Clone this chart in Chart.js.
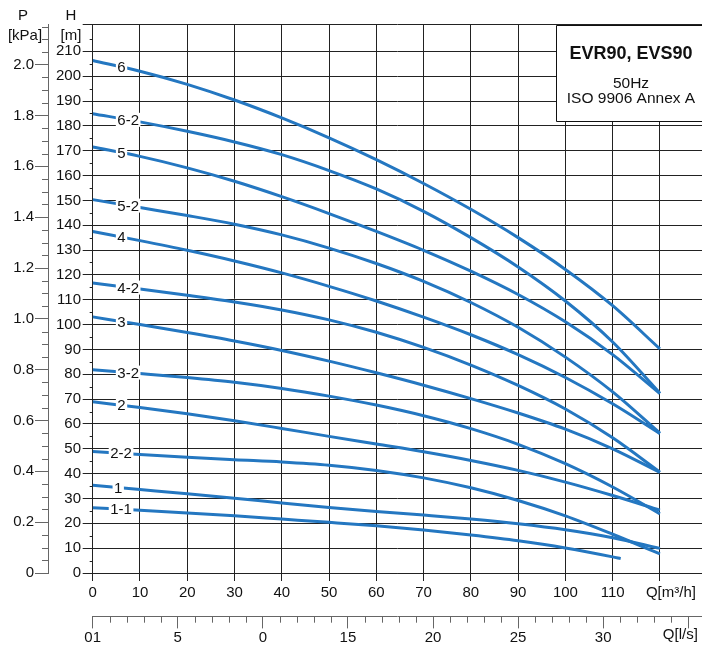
<!DOCTYPE html>
<html lang="en">
<head>
    <meta charset="UTF-8">
    <title>EVR90, EVS90</title>
    <script src="https://cdn.jsdelivr.net/npm/chart.js"></script>
    <style>body { margin: 0; background: #fff; }</style>
</head>
<body>
    <canvas id="chart" width="702" height="646"></canvas>

    <script>
        // flow points (m3/h) and head (m)
        const flowM3h = [0, 10, 20, 30, 40, 50, 60, 70, 80, 90, 100, 110, 120];
        const flowShort = [0, 10, 20, 30, 40, 50, 60, 70, 80, 90, 100, 110, 111.7];

        const head6   = [206.3, 202, 196.7, 190.4, 183.2, 175.2, 166.4, 156.8, 146.4, 135, 122.2, 107.6, 90.2];
        const head6_2 = [184.9, 181.6, 177.8, 173.5, 168.4, 162, 154.6, 145.6, 135, 123.2, 109.5, 93, 72.4];
        const head5   = [171.5, 167.7, 163.1, 157.7, 151.5, 144.7, 137.5, 129.9, 121.5, 112.1, 101.1, 87.9, 72.2];
        const head5_2 = [150.3, 147.1, 143.9, 140.4, 136.1, 130.8, 124.6, 117.4, 108.9, 98.9, 86.9, 72.9, 56.3];
        const head4   = [137.5, 133.8, 129.9, 125.6, 120.8, 115.4, 109.5, 103, 95.9, 87.9, 78.7, 68.1, 56.1];
        const head4_2 = [116.7, 114.3, 111.8, 109.1, 105.9, 101.9, 96.9, 90.8, 83.7, 75.5, 66, 54.4, 40.6];
        const head3   = [103.1, 100, 96.8, 93.4, 89.6, 85.3, 80.6, 75.6, 70.2, 64.4, 57.9, 50, 40.5];
        const head3_2 = [81.8, 80.3, 78.7, 76.8, 74.3, 71.2, 67.6, 63.3, 58.1, 51.8, 44, 34.6, 23.8];
        const head2   = [68.9, 66.6, 64.1, 61.3, 58.2, 55, 51.9, 48.8, 45.3, 41.3, 36.6, 31.2, 25.3];
        const head2_2 = [48.9, 47.7, 46.6, 45.6, 44.7, 43.4, 41.3, 38.3, 34.3, 29.2, 23, 15.6, 7.7];
        const head1   = [35.3, 33.6, 31.9, 30.1, 28.2, 26.4, 24.8, 23.3, 21.7, 19.8, 17.4, 14.2, 9.9];
        const head1_1 = [26.3, 25.3, 24.2, 23, 21.7, 20.4, 19, 17.3, 15.3, 13, 10.1, 6.5, 5.8];

        const curveNames = ['6', '6-2', '5', '5-2', '4', '4-2', '3', '3-2', '2', '2-2', '1', '1-1'];

        // second flow axis (l/s) tick labels, as printed
        const lsTickValues = [0, 5, 10, 15, 20, 25, 30];
        const lsTickLabels = ['01', '5', '0', '15', '20', '25', '30'];

        const heads = [head6, head6_2, head5, head5_2, head4, head4_2, head3, head3_2, head2, head2_2, head1, head1_1];
        const labelAt = [6.1, 7.5, 6.1, 7.5, 6.1, 7.5, 6.1, 7.5, 6.1, 6, 5.4, 6];
        const curves = curveNames.map((name, i) => ({
            name: name,
            q: name === '1-1' ? flowShort : flowM3h,
            h: heads[i],
            at: labelAt[i]
        }));

        const BLUE = '#2477c1';
        const GRID = '#222';
        const FONT = "'Liberation Sans', Arial, sans-serif";
        const Q_MAX = 128.9;
        const H_MAX = 221;
        const P_MAX = 2.16;

        Chart.defaults.font.family = FONT;
        Chart.defaults.font.size = 15;
        Chart.defaults.color = '#111';

        function headAt(c, q) {
            for (let i = 1; i < c.q.length; i++) {
                if (q <= c.q[i]) {
                    const t = (q - c.q[i - 1]) / (c.q[i] - c.q[i - 1]);
                    return c.h[i - 1] + t * (c.h[i] - c.h[i - 1]);
                }
            }
            return c.h[c.h.length - 1];
        }

        const extras = {
            id: 'extras',
            afterDatasetsDraw(chart) {
                const ctx = chart.ctx;
                const x = chart.scales.x, y = chart.scales.y;
                ctx.save();
                // curve names on white patches
                ctx.font = '15px ' + FONT;
                ctx.textAlign = 'center';
                ctx.textBaseline = 'middle';
                curves.forEach(c => {
                    const px = x.getPixelForValue(c.at);
                    const py = y.getPixelForValue(headAt(c, c.at));
                    const w = ctx.measureText(c.name).width + 3;
                    ctx.fillStyle = '#fff';
                    ctx.fillRect(px - w / 2, py - 7, w, 14);
                    ctx.fillStyle = '#111';
                    ctx.fillText(c.name, px, py + 1);
                });

                // title box (open to the right edge)
                const bx = 556, by = 25, bh = 96;
                ctx.fillStyle = '#fff';
                ctx.fillRect(bx, by, 200, bh);
                ctx.strokeStyle = '#111';
                ctx.lineWidth = 1;
                ctx.beginPath();
                ctx.moveTo(chart.width, by + 0.5);
                ctx.lineTo(bx + 0.5, by + 0.5);
                ctx.lineTo(bx + 0.5, by + bh + 0.5);
                ctx.lineTo(chart.width, by + bh + 0.5);
                ctx.stroke();
                ctx.fillStyle = '#111';
                ctx.font = 'bold 18px ' + FONT;
                ctx.fillText('EVR90, EVS90', 631, 54);
                ctx.font = '15.5px ' + FONT;
                ctx.fillText('50Hz', 631, 84);
                ctx.fillText('ISO 9906 Annex A', 631, 99);
                ctx.restore();
            },
            afterDraw(chart) {
                const ctx = chart.ctx;
                const x = chart.scales.x, y = chart.scales.y;
                const p = chart.scales.p, ls = chart.scales.ls;
                ctx.save();
                ctx.lineWidth = 1;
                // minor head ticks every 5 m
                ctx.strokeStyle = GRID;
                for (let v = 5; v < H_MAX; v += 10) {
                    const py = Math.round(y.getPixelForValue(v)) + 0.5;
                    ctx.beginPath();
                    ctx.moveTo(y.right - 3, py);
                    ctx.lineTo(y.right, py);
                    ctx.stroke();
                }
                // minor pressure ticks every 0.05
                ctx.strokeStyle = '#666';
                for (let i = 1; i * 0.05 < P_MAX; i++) {
                    if (i % 4 === 0) continue;
                    const py = Math.round(p.getPixelForValue(i * 0.05)) + 0.5;
                    ctx.beginPath();
                    ctx.moveTo(p.right - 6, py);
                    ctx.lineTo(p.right, py);
                    ctx.stroke();
                }
                // minor l/s ticks every 1
                for (let v = 1; v <= 35; v++) {
                    if (v % 5 === 0) continue;
                    const px = Math.round(ls.getPixelForValue(v)) + 0.5;
                    ctx.beginPath();
                    ctx.moveTo(px, ls.top);
                    ctx.lineTo(px, ls.top + 6);
                    ctx.stroke();
                }
                // axis captions
                ctx.fillStyle = '#111';
                ctx.font = '15px ' + FONT;
                ctx.textAlign = 'center';
                ctx.textBaseline = 'middle';
                ctx.fillText('P', 23, 16);
                ctx.fillText('[kPa]', 25, 36);
                ctx.fillText('H', 71, 16);
                ctx.fillText('[m]', 71, 36);
                ctx.fillText('Q[m\u00b3/h]', x.getPixelForValue(120) + 11, 593);
                ctx.fillText('Q[l/s]', ls.getPixelForValue(35) - 8, 635);
                ctx.restore();
            }
        };

        const ctx = document.getElementById('chart').getContext('2d');
        new Chart(ctx, {
            type: 'line',
            data: {
                datasets: curves.map(c => ({
                    label: c.name,
                    data: c.q.map((q, i) => ({ x: q, y: c.h[i] })),
                    borderColor: BLUE,
                    borderWidth: 3,
                    pointRadius: 0,
                    cubicInterpolationMode: 'monotone',
                    fill: false
                }))
            },
            options: {
                responsive: false,
                animation: false,
                layout: { padding: { top: 24, left: 0, right: 0, bottom: 0 } },
                plugins: { legend: { display: false }, tooltip: { enabled: false } },
                scales: {
                    x: {
                        type: 'linear', position: 'bottom', weight: 0,
                        min: 0, max: Q_MAX,
                        afterBuildTicks: s => { s.ticks = flowM3h.map(v => ({ value: v })); },
                        ticks: { callback: v => (v <= 110 ? String(v) : ''), padding: 3, maxRotation: 0 },
                        grid: { color: GRID, lineWidth: 1, tickLength: 8 },
                        border: { color: GRID },
                        afterFit: s => { s.height = 43.7; }
                    },
                    ls: {
                        type: 'linear', position: 'bottom', weight: 1,
                        min: 0, max: Q_MAX / 3.6,
                        afterBuildTicks: s => { s.ticks = lsTickValues.concat([35]).map(v => ({ value: v })); },
                        ticks: {
                            callback: v => { const i = lsTickValues.indexOf(v); return i >= 0 ? lsTickLabels[i] : ''; },
                            padding: 0, maxRotation: 0
                        },
                        grid: { drawOnChartArea: false, color: '#666', tickLength: 11.7 },
                        border: { color: '#666' },
                        afterFit: s => { s.height = 29.3; }
                    },
                    y: {
                        type: 'linear', position: 'left', weight: 0,
                        min: 0, max: H_MAX,
                        afterBuildTicks: s => {
                            const t = [];
                            for (let v = 0; v <= 210; v += 10) t.push({ value: v });
                            t.push({ value: H_MAX });
                            s.ticks = t;
                        },
                        ticks: { callback: v => (v === H_MAX ? '' : String(v)), padding: 1.7 },
                        grid: { color: GRID, lineWidth: 1, tickLength: 10 },
                        border: { color: GRID },
                        afterFit: s => { s.width = 44.7; }
                    },
                    p: {
                        type: 'linear', position: 'left', weight: 1,
                        min: 0, max: P_MAX,
                        afterBuildTicks: s => {
                            const t = [];
                            for (let i = 0; i <= 10; i++) t.push({ value: i * 0.2 });
                            s.ticks = t;
                        },
                        ticks: { callback: v => (v === 0 ? '0' : v.toFixed(1)), padding: 1 },
                        grid: { drawOnChartArea: false, color: '#666', tickLength: 13 },
                        border: { color: '#666' },
                        afterFit: s => { s.width = 48; }
                    }
                }
            },
            plugins: [extras]
        });
    </script>
</body>
</html>
